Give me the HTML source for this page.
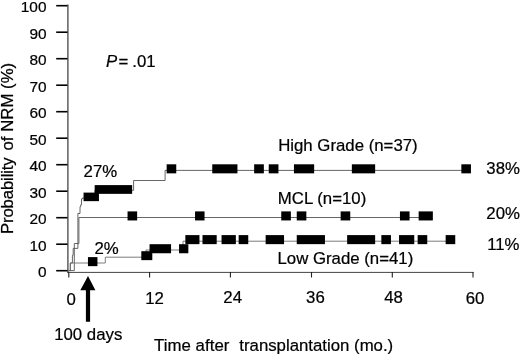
<!DOCTYPE html>
<html><head><meta charset="utf-8"><title>NRM</title>
<style>
html,body{margin:0;padding:0;background:#fff;}
body{width:520px;height:354px;overflow:hidden;}
svg{display:block;filter:grayscale(1);}
text{font-family:"Liberation Sans",sans-serif;font-size:16.8px;fill:#000;stroke:#000;stroke-width:0.22px;}
.ln{fill:none;stroke:#555;stroke-width:0.9;}
.mk{fill:#000;}
.yl text{font-size:15.4px;}
</style></head><body>
<svg width="520" height="354" viewBox="0 0 520 354">
<rect width="520" height="354" fill="#fff"/>
<!-- axes -->
<line x1="67.9" y1="4.6" x2="67.9" y2="272.8" stroke="#444" stroke-width="1.3"/>
<line x1="67.3" y1="272.4" x2="473.5" y2="272.4" stroke="#444" stroke-width="1"/>
<g stroke="#000" stroke-width="1.6">
<line x1="56.2" x2="67.5" y1="5.7" y2="5.7"/>
<line x1="56.2" x2="67.5" y1="32.2" y2="32.2"/>
<line x1="56.2" x2="67.5" y1="58.7" y2="58.7"/>
<line x1="56.2" x2="67.5" y1="85.2" y2="85.2"/>
<line x1="56.2" x2="67.5" y1="111.7" y2="111.7"/>
<line x1="56.2" x2="67.5" y1="138.2" y2="138.2"/>
<line x1="56.2" x2="67.5" y1="164.7" y2="164.7"/>
<line x1="56.2" x2="67.5" y1="191.2" y2="191.2"/>
<line x1="56.2" x2="67.5" y1="217.7" y2="217.7"/>
<line x1="56.2" x2="67.5" y1="244.2" y2="244.2"/>
<line x1="56.2" x2="67.5" y1="270.7" y2="270.7"/>
</g>
<g stroke="#222" stroke-width="1.1">
<line x1="68.8" x2="68.8" y1="272" y2="277.5"/>
<line x1="149.6" x2="149.6" y1="272" y2="277.5"/>
<line x1="230.4" x2="230.4" y1="272" y2="277.5"/>
<line x1="311.5" x2="311.5" y1="272" y2="277.5"/>
<line x1="392.3" x2="392.3" y1="272" y2="277.5"/>
<line x1="473" x2="473" y1="272" y2="277.5"/>
</g>
<!-- y labels -->
<g text-anchor="end" class="yl">
<text x="46.5" y="12.3">100</text>
<text x="46.5" y="38.8">90</text>
<text x="46.5" y="65.3">80</text>
<text x="46.5" y="91.8">70</text>
<text x="46.5" y="118.3">60</text>
<text x="46.5" y="144.8">50</text>
<text x="46.5" y="171.3">40</text>
<text x="46.5" y="197.8">30</text>
<text x="46.5" y="224.3">20</text>
<text x="46.5" y="250.8">10</text>
<text x="46.5" y="277.3">0</text>
</g>
<!-- x labels -->
<text x="66.6" y="304.5">0</text>
<text x="145.2" y="304.3">12</text>
<text x="223.3" y="303.4">24</text>
<text x="306.1" y="303.4">36</text>
<text x="384.2" y="303.4">48</text>
<text x="465.7" y="303.6">60</text>
<!-- y title -->
<text transform="translate(13.2,234.1) rotate(-90)"><tspan letter-spacing="-0.15">Probability</tspan><tspan dx="2.25"> of NRM (%)</tspan></text>
<!-- P -->
<text x="106" y="66.5"><tspan font-style="italic">P</tspan><tspan dx="1.2">=</tspan><tspan dx="-0.6"> .01</tspan></text>
<!-- curves -->
<path class="ln" d="M68.5,270.6 H70.3 V263 H72.4 V255.3 H73.2 V248.4 H77.9 V213.5 H80 V206.7 H80.7 V204.8 H81.5 V198.8 H82.5 V198 H95 V190.3 H133.6 V180.5 H165.1 V170.4 H470"/>
<path class="ln" d="M68.5,270.6 H74.3 V243.5 H78.9 V217.5 H432"/>
<path class="ln" style="stroke:#6e6e6e" d="M68.5,270.6 H70.3 V263 H105.3 V257.2 H146 V250 H183 V241.2 H455"/>
<!-- HG markers -->
<g class="mk">
<rect x="83.55" y="192.60" width="15.40" height="8.55"/>
<rect x="94.65" y="185.10" width="37.50" height="8.75"/>
<rect x="166.65" y="164.30" width="9.60" height="9.05"/>
<rect x="212.25" y="164.30" width="25.20" height="9.05"/>
<rect x="254.15" y="164.30" width="9.70" height="9.05"/>
<rect x="268.75" y="164.30" width="9.70" height="9.05"/>
<rect x="293.95" y="164.30" width="20.20" height="9.05"/>
<rect x="351.85" y="164.30" width="23.30" height="9.05"/>
<rect x="461.35" y="164.30" width="9.60" height="9.05"/>
<!-- MCL -->
<rect x="127.55" y="211.40" width="9.60" height="9.05"/>
<rect x="195.05" y="211.40" width="9.50" height="9.05"/>
<rect x="281.25" y="211.40" width="9.60" height="9.05"/>
<rect x="296.75" y="211.40" width="9.60" height="9.05"/>
<rect x="340.65" y="211.40" width="9.60" height="9.05"/>
<rect x="399.95" y="211.40" width="9.60" height="9.05"/>
<rect x="418.65" y="211.40" width="14.20" height="9.05"/>
<!-- LG -->
<rect x="87.95" y="257.10" width="9.50" height="9.05"/>
<rect x="141.3" y="251.20" width="11.0" height="8.95"/>
<rect x="149.55" y="244.20" width="21.50" height="9.05"/>
<rect x="179.05" y="244.20" width="9.30" height="9.05"/>
<rect x="185.35" y="235.10" width="14.10" height="9.05"/>
<rect x="202.5" y="235.10" width="14.2" height="9.05"/>
<rect x="221.55" y="235.10" width="14.30" height="9.05"/>
<rect x="238.65" y="235.10" width="9.60" height="9.05"/>
<rect x="265.65" y="235.10" width="18.40" height="9.05"/>
<rect x="296.75" y="235.10" width="28.20" height="9.05"/>
<rect x="347.15" y="235.10" width="28.00" height="9.05"/>
<rect x="381.35" y="235.10" width="9.60" height="9.05"/>
<rect x="399.05" y="235.10" width="15.20" height="9.05"/>
<rect x="417.65" y="235.10" width="9.60" height="9.05"/>
<rect x="445.65" y="235.10" width="9.60" height="9.05"/>
</g>
<!-- labels -->
<text x="278.2" y="151.4">High Grade (n=37)</text>
<text x="277.8" y="203.8">MCL (n=10)</text>
<text x="277.5" y="264.2">Low Grade (n=41)</text>
<text x="83.6" y="177">27%</text>
<text x="94.4" y="253.8">2%</text>
<text x="486.3" y="173.7">38%</text>
<text x="486.3" y="218.9">20%</text>
<text x="487.2" y="249.6">11%</text>
<!-- arrow -->
<path d="M88,275.9 L95.4,290.3 H90.1 V321.7 H85.9 V290.3 H80.3 Z" fill="#000"/>
<text x="54.2" y="340.2">100 days</text>
<text x="154" y="350.5" letter-spacing="0.05">Time after</text>
<text x="239.3" y="350.5">transplantation (mo.)</text>
</svg>
</body></html>
